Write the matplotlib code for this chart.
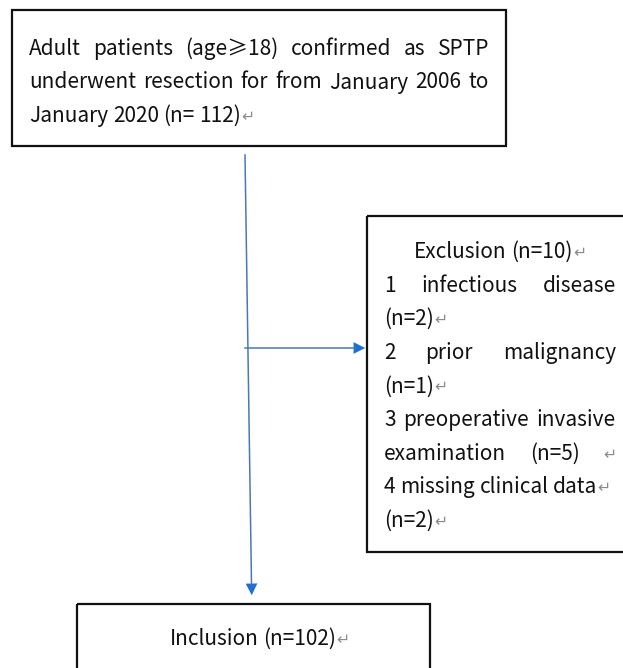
import matplotlib
matplotlib.use("Agg")
import matplotlib.pyplot as plt
from matplotlib.patches import Rectangle, FancyArrowPatch

plt.rcParams['font.family'] = ['Noto Sans CJK SC', 'DejaVu Sans']

RET = "\u21b5"
top_lines = [
    ("Adult patients (age\u226518) confirmed as SPTP", "justify"),
    ("underwent resection for from January 2006 to", "justify"),
    ("January 2020 (n= 112)" + RET, "left"),
]
excl_lines = [
    ("Exclusion (n=10)" + RET, "center"),
    ("1 infectious disease", "justify"),
    ("(n=2)" + RET, "left"),
    ("2 prior malignancy", "justify"),
    ("(n=1)" + RET, "left"),
    ("3 preoperative invasive", "justify"),
    ("examination (n=5) " + RET, "justify"),
    ("4 missing clinical data" + RET, "left"),
    ("(n=2)" + RET, "left"),
]
incl_text = "Inclusion (n=102)" + RET

W, H = 623, 668
fig = plt.figure(figsize=(W / 100, H / 100), dpi=100)
ax = fig.add_axes([0, 0, 1, 1])
ax.set_xlim(0, W)
ax.set_ylim(H, 0)
ax.axis('off')
renderer = fig.canvas.get_renderer()
FS = 15.0
TXT = '#111111'
GRAY = '#8a8a8a'


def split_tokens(s):
    toks = []
    for w in s.split():
        if w.endswith(RET) and len(w) > 1:
            toks.append((w[:-1], TXT))
            toks.append((RET, GRAY))
        elif w == RET:
            toks.append((RET, GRAY))
        else:
            toks.append((w, TXT))
    return toks


def style(w):
    if w == RET:
        return dict(fontsize=FS * 0.75, family=['DejaVu Sans'])
    return dict(fontsize=FS)


def width_of(s):
    t = ax.text(0, 0, s, **style(s))
    bb = t.get_window_extent(renderer)
    t.remove()
    return bb.width


def draw_line(s, mode, x0, x1, y):
    toks = split_tokens(s)
    widths = [width_of(w) for w, c in toks]
    space = width_of("a a") - width_of("aa")
    glued = []
    for w in s.split():
        if w.endswith(RET) and len(w) > 1:
            glued += [False, True]
        else:
            glued.append(False)
    if mode == "justify":
        n_gaps = sum(1 for g in glued[1:] if not g)
        free = (x1 - x0) - sum(widths)
        gap = free / n_gaps if n_gaps else space
        x = x0
    else:
        gap = space
        total = sum(widths) + gap * sum(1 for g in glued[1:] if not g)
        x = x0 if mode == "left" else (x0 + x1) / 2 - total / 2
    for i, ((w, c), wd) in enumerate(zip(toks, widths)):
        if i > 0 and not glued[i]:
            x += gap
        ax.text(x, y, w, color=c, ha='left', va='baseline', **style(w))
        x += wd


def box(x0, y0, x1, y1):
    ax.add_patch(Rectangle((x0, y0), x1 - x0, y1 - y0, fill=False,
                           ec='#111111', lw=1.6, clip_on=False))


box(12, 10, 506, 146)
box(367, 216, 650, 552)
box(77, 604, 430, 700)

for i, (s, m) in enumerate(top_lines):
    draw_line(s, m, 29, 489, 55 + i * 33.5)
for i, (s, m) in enumerate(excl_lines):
    draw_line(s, m, 384, 616, 258 + i * 33.6)
draw_line(incl_text, "center", 95, 424, 645)

LC = '#4a78b5'
HC = '#1f6fd0'
ax.plot([245, 251.5], [155, 584], color=LC, lw=1.1)
ax.add_patch(FancyArrowPatch((251.5, 582), (251.8, 598), arrowstyle='-|>',
                             mutation_scale=21, color=HC, lw=0))
ax.plot([245, 355], [348, 348], color=LC, lw=1.1)
ax.add_patch(FancyArrowPatch((352, 348), (368, 348), arrowstyle='-|>',
                             mutation_scale=21, color=HC, lw=0))

fig.savefig("out.png", dpi=100, facecolor='white')
